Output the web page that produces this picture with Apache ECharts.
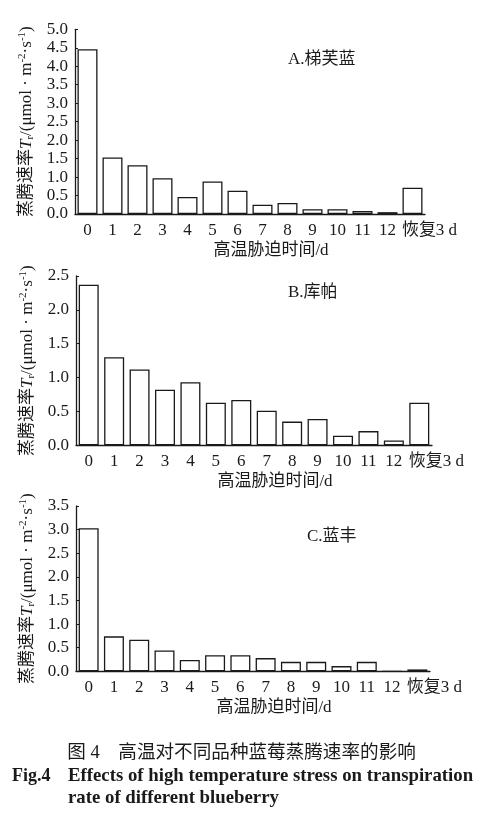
<!DOCTYPE html>
<html>
<head>
<meta charset="utf-8">
<script src="https://cdn.jsdelivr.net/npm/echarts@6/dist/echarts.min.js"></script>
<style>
html,body{margin:0;padding:0;background:#fff;}
#chart{width:483px;height:823px;}
</style>
</head>
<body>
<div id="chart"></div>
<script>
const categories = ['0','1','2','3','4','5','6','7','8','9','10','11','12','恢复3 d'];
const valuesA = [4.46,1.53,1.32,0.97,0.46,0.88,0.63,0.25,0.30,0.13,0.13,0.08,0.05,0.71];
const valuesB = [2.37,1.30,1.12,0.82,0.93,0.63,0.67,0.51,0.35,0.39,0.14,0.21,0.07,0.63];
const valuesC = [3.03,0.74,0.67,0.44,0.24,0.34,0.34,0.28,0.20,0.20,0.11,0.20,0,0.04];
const yMax = [5.0, 2.5, 3.5];
const panelLabels = ['A.梯芙蓝','B.库帕','C.蓝丰'];
const xName = '高温胁迫时间/d';
const captionCn = '图 4　高温对不同品种蓝莓蒸腾速率的影响';
const captionFig = 'Fig.4';
const captionEn1 = 'Effects of high temperature stress on transpiration';
const captionEn2 = 'rate of different blueberry';

const FONT = "'Liberation Serif','Noto Sans CJK SC',serif";
const INK = '#1a1a1a';

const grids = [
  {left: 75, top: 29.3, width: 350, height: 184.7},
  {left: 76, top: 276, width: 356, height: 169.3},
  {left: 76, top: 506, width: 354, height: 165.3}
];
const allValues = [valuesA, valuesB, valuesC];

const yNameRich = {
  a: {fontSize: 17, fontFamily: FONT, color: INK},
  i: {fontSize: 17, fontFamily: FONT, fontStyle: 'italic', color: INK},
  s: {fontSize: 11, fontFamily: FONT, color: INK, padding: [8,0,0,0]},
  p: {fontSize: 11, fontFamily: FONT, color: INK, padding: [0,0,8,0]}
};
const yNameText = '{a|蒸腾速率}{i|T}{s|r}{a|/(μmol · m}{p|-2}{a|·s}{p|-1}{a|)}';

const xAxes = grids.map((g, k) => ({
  type: 'category',
  gridIndex: k,
  data: categories,
  axisTick: {show: false},
  axisLine: {lineStyle: {color: INK, width: 1.3}},
  axisLabel: {
    interval: 0, fontSize: 17, fontFamily: FONT, color: INK, margin: 8,
    formatter: (v, i) => i === categories.length - 1 ? '{r|' + v + '}' : v,
    rich: {r: {fontSize: 17, fontFamily: FONT, color: INK, padding: [0,0,0,34]}}
  },
  name: xName,
  nameLocation: 'middle',
  nameGap: 28,
  nameTextStyle: {fontSize: 17, fontFamily: FONT, color: INK, padding: [0,0,0,42]}
}));

const yAxes = grids.map((g, k) => ({
  type: 'value',
  gridIndex: k,
  min: 0,
  max: yMax[k],
  interval: 0.5,
  splitLine: {show: false},
  axisLine: {show: true, lineStyle: {color: INK, width: 1.3}},
  axisTick: {show: true, inside: true, length: 3, lineStyle: {color: INK}},
  axisLabel: {fontSize: 17, fontFamily: FONT, color: INK, margin: 7, formatter: v => v.toFixed(1)},
  name: yNameText,
  nameLocation: 'middle',
  nameGap: 37,
  nameRotate: 90,
  nameTextStyle: {rich: yNameRich}
}));

const series = allValues.map((vals, k) => ({
  type: 'bar',
  xAxisIndex: k,
  yAxisIndex: k,
  data: vals,
  barWidth: 20,
  itemStyle: {color: '#fff', borderColor: INK, borderWidth: 1.3},
  silent: true
}));

const titles = [
  {text: panelLabels[0], left: 288, top: 51},
  {text: panelLabels[1], left: 288, top: 284},
  {text: panelLabels[2], left: 307, top: 528},
].map(t => ({...t, padding: 0, textStyle: {fontSize: 17, fontWeight: 'normal', fontFamily: FONT, color: INK}}));

titles.push({text: captionCn, left: 'center', top: 744, padding: 0,
  textStyle: {fontSize: 18.6, fontWeight: 'normal', fontFamily: FONT, color: INK}});
titles.push({text: captionFig, left: 12, top: 767, padding: 0,
  textStyle: {fontSize: 18, fontWeight: 'bold', fontFamily: FONT, color: INK}});
titles.push({text: captionEn1, left: 68, top: 767, padding: 0,
  textStyle: {fontSize: 18.8, fontWeight: 'bold', fontFamily: FONT, color: INK}});
titles.push({text: captionEn2, left: 68, top: 789, padding: 0,
  textStyle: {fontSize: 18.8, fontWeight: 'bold', fontFamily: FONT, color: INK}});

const chart = echarts.init(document.getElementById('chart'), null, {renderer: 'canvas'});
chart.setOption({
  backgroundColor: '#fff',
  animation: false,
  title: titles,
  grid: grids,
  xAxis: xAxes,
  yAxis: yAxes,
  series: series
});
</script>
</body>
</html>
